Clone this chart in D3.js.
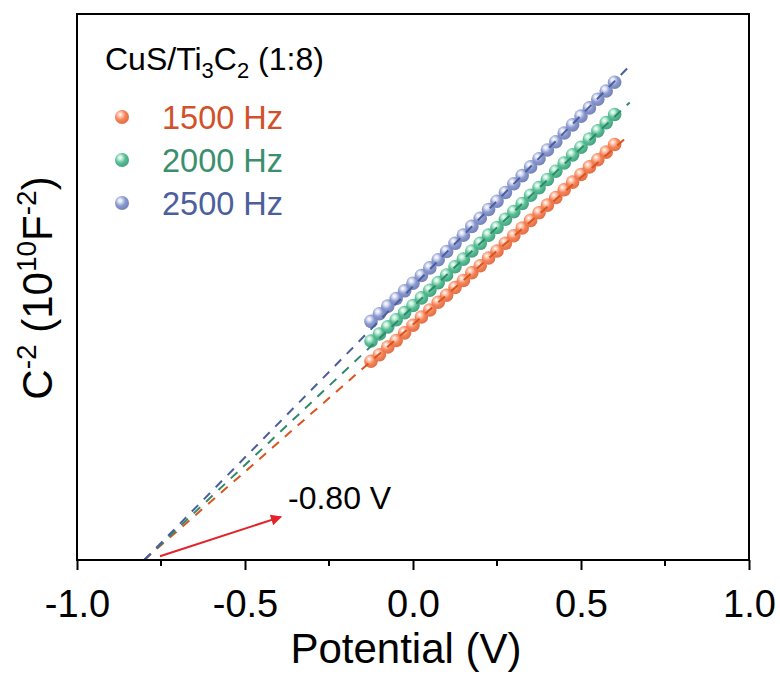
<!DOCTYPE html>
<html>
<head>
<meta charset="utf-8">
<script src="https://cdn.jsdelivr.net/npm/d3@7"></script>
<style>
  html, body { margin: 0; padding: 0; background: #fff; }
  svg { display: block; font-family: Arial, "Liberation Sans", sans-serif; }
</style>
</head>
<body>
<svg id="chart" width="780" height="684"></svg>
<script>
// potential grid (V) shared by the three frequencies
const potential = [
  -0.125, -0.1, -0.075, -0.05, -0.025, 0, 0.025, 0.05, 0.075, 0.1,
  0.125, 0.15, 0.175, 0.2, 0.225, 0.25, 0.275, 0.3, 0.325, 0.35,
  0.375, 0.4, 0.425, 0.45, 0.475, 0.5, 0.525, 0.55, 0.575, 0.6
];
// C^-2 in 10^10 F^-2
const c1500 = [
  3.64, 3.76, 3.90, 4.02, 4.16, 4.30, 4.45, 4.58, 4.72, 4.85,
  4.99, 5.12, 5.26, 5.39, 5.53, 5.66, 5.80, 5.94, 6.08, 6.22,
  6.36, 6.50, 6.64, 6.78, 6.92, 7.06, 7.20, 7.33, 7.47, 7.61
];
const c2000 = [
  4.01, 4.14, 4.27, 4.40, 4.53, 4.66, 4.80, 4.94, 5.08, 5.22,
  5.37, 5.51, 5.66, 5.80, 5.95, 6.09, 6.24, 6.38, 6.53, 6.68,
  6.82, 6.97, 7.12, 7.27, 7.42, 7.56, 7.71, 7.86, 8.01, 8.16
];
const c2500 = [
  4.37, 4.51, 4.65, 4.79, 4.93, 5.07, 5.21, 5.35, 5.50, 5.65,
  5.80, 5.95, 6.11, 6.26, 6.42, 6.57, 6.73, 6.89, 7.04, 7.20,
  7.35, 7.51, 7.66, 7.82, 7.97, 8.13, 8.28, 8.44, 8.59, 8.75
];
// linear fits, extrapolated to the x intercept
const fitX = [-0.80, 0.645];
const fit1500 = [0, 7.79];
const fit2000 = [0, 8.38];
const fit2500 = [0, 9.05];

const labels = ["1500 Hz", "2000 Hz", "2500 Hz"];
const xTicks = [-1.0, -0.5, 0.0, 0.5, 1.0];
const xMinor = [-0.75, -0.25, 0.25, 0.75];
const intercept = -0.80;
const arrowFrom = [-0.753, 0.07];
const arrowTo = [-0.393, 0.79];

const series = [
  { name: labels[0], values: c1500, fit: fit1500, base: "#f5845a", light: "#ffcdb8", edge: "#e06c42", line: "#d9541e", text: "#d2512a" },
  { name: labels[1], values: c2000, fit: fit2000, base: "#5abf97", light: "#c6efdc", edge: "#42a07b", line: "#2e8b6a", text: "#3c8f6e" },
  { name: labels[2], values: c2500, fit: fit2500, base: "#8b99cf", light: "#dce1f5", edge: "#7180b8", line: "#4b5e9e", text: "#4c5e9c" }
];

// hyphen minus, like the original figure
const fmt1 = (d) => d3.format(".1f")(d).replace("\u2212", "-");
const fmt2 = (d) => d3.format(".2f")(d).replace("\u2212", "-");

const svg = d3.select("#chart");
const m = { left: 77, right: 749, top: 14, bottom: 560 };

const x = d3.scaleLinear().domain([-1, 1]).range([m.left, m.right]);
const y = d3.scaleLinear().domain([0, 10]).range([m.bottom, m.top]);

const defs = svg.append("defs");
series.forEach((s, i) => {
  const g = defs.append("radialGradient")
    .attr("id", "ball" + i)
    .attr("cx", "40%").attr("cy", "38%").attr("r", "65%")
    .attr("fx", "36%").attr("fy", "32%");
  g.append("stop").attr("offset", "0%").attr("stop-color", "#ffffff");
  g.append("stop").attr("offset", "22%").attr("stop-color", s.light);
  g.append("stop").attr("offset", "55%").attr("stop-color", s.base);
  g.append("stop").attr("offset", "100%").attr("stop-color", s.edge);
});
defs.append("marker")
  .attr("id", "arrowhead")
  .attr("viewBox", "0 0 10 10")
  .attr("refX", 9).attr("refY", 5)
  .attr("markerWidth", 9).attr("markerHeight", 5.5)
  .attr("markerUnits", "strokeWidth")
  .attr("orient", "auto")
  .append("path")
  .attr("d", "M0,0 L10,5 L0,10 Z")
  .attr("fill", "#e3232a");

// data beads
series.forEach((s, i) => {
  svg.append("g")
    .selectAll("circle")
    .data(s.values)
    .join("circle")
    .attr("cx", (d, j) => x(potential[j]))
    .attr("cy", (d) => y(d))
    .attr("r", 6.8)
    .attr("fill", `url(#ball${i})`);
});

// dashed fits on top of beads
const line = d3.line().x((d) => x(d[0])).y((d) => y(d[1]));
series.forEach((s) => {
  svg.append("path")
    .datum(fitX.map((v, j) => [v, s.fit[j]]))
    .attr("fill", "none")
    .attr("stroke", s.line)
    .attr("stroke-width", 2)
    .attr("stroke-dasharray", "9 8")
    .attr("d", line);
});

// frame
svg.append("rect")
  .attr("x", m.left).attr("y", m.top)
  .attr("width", m.right - m.left).attr("height", m.bottom - m.top)
  .attr("fill", "none").attr("stroke", "#000").attr("stroke-width", 2);

// bottom axis
const xAxis = svg.append("g")
  .attr("transform", `translate(0,${m.bottom})`)
  .call(d3.axisBottom(x).tickValues(xTicks).tickSize(10).tickPadding(20)
    .tickFormat(fmt1));
xAxis.select(".domain").remove();
xAxis.selectAll(".tick line").attr("stroke-width", 2);
xAxis.selectAll("text")
  .attr("font-size", 38)
  .attr("font-family", "Arial, 'Liberation Sans', sans-serif")
  .attr("fill", "#000");
svg.append("g")
  .attr("transform", `translate(0,${m.bottom})`)
  .selectAll("line")
  .data(xMinor)
  .join("line")
  .attr("x1", (d) => x(d)).attr("x2", (d) => x(d))
  .attr("y1", 0).attr("y2", 6)
  .attr("stroke", "#000").attr("stroke-width", 2);

svg.append("text")
  .attr("x", 406).attr("y", 663)
  .attr("text-anchor", "middle")
  .attr("font-size", 42)
  .text("Potential (V)");

// y label
const yl = svg.append("text")
  .attr("transform", "translate(52,288) rotate(-90)")
  .attr("text-anchor", "middle")
  .attr("font-size", 42);
yl.append("tspan").text("C");
yl.append("tspan").attr("dy", -16).attr("font-size", 28).text("-2");
yl.append("tspan").attr("dy", 16).text(" (10");
yl.append("tspan").attr("dy", -16).attr("font-size", 28).text("10");
yl.append("tspan").attr("dy", 16).text("F");
yl.append("tspan").attr("dy", -16).attr("font-size", 28).text("-2");
yl.append("tspan").attr("dy", 16).text(")");

// legend
const title = svg.append("text")
  .attr("x", 105).attr("y", 70)
  .attr("font-size", 32);
title.append("tspan").text("CuS/Ti");
title.append("tspan").attr("dy", 8).attr("font-size", 22).text("3");
title.append("tspan").attr("dy", -8).text("C");
title.append("tspan").attr("dy", 8).attr("font-size", 22).text("2");
title.append("tspan").attr("dy", -8).text(" (1:8)");

const lg = svg.append("g");
series.forEach((s, i) => {
  const cy = 117 + i * 43;
  lg.append("circle")
    .attr("cx", 122).attr("cy", cy).attr("r", 7)
    .attr("fill", `url(#ball${i})`);
  lg.append("text")
    .attr("x", 162).attr("y", cy + 12)
    .attr("font-size", 32.5)
    .attr("fill", s.text)
    .text(s.name);
});

// intercept annotation
svg.append("line")
  .attr("x1", x(arrowFrom[0])).attr("y1", y(arrowFrom[1]))
  .attr("x2", x(arrowTo[0])).attr("y2", y(arrowTo[1]))
  .attr("stroke", "#e3232a").attr("stroke-width", 2)
  .attr("marker-end", "url(#arrowhead)");
svg.append("text")
  .attr("x", 288).attr("y", 509)
  .attr("font-size", 32)
  .text(fmt2(intercept) + " V");
</script>
</body>
</html>
